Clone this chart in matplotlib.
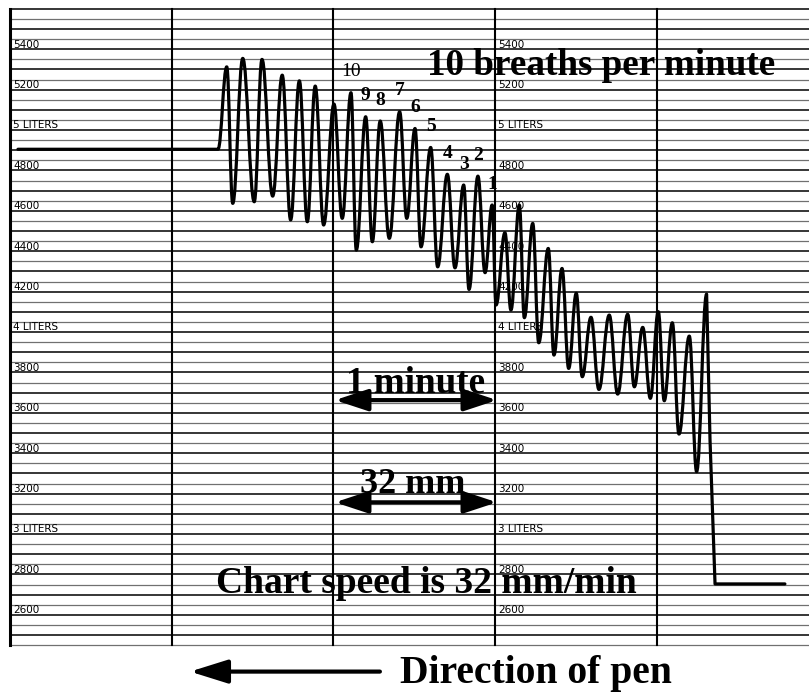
import matplotlib.pyplot as plt
from matplotlib.path import Path
from matplotlib.patches import PathPatch

# spirometer trace, time in minutes from the left chart line, volume in mL
# (flat start, then alternating peaks and troughs, then the final drop)
trace_min = [0.049, 1.286, 1.340, 1.377, 1.439, 1.510, 1.558, 1.624, 1.683, 1.735,
             1.789, 1.838, 1.887, 1.939, 2.003, 2.054, 2.108, 2.141, 2.199, 2.240,
             2.289, 2.345, 2.409, 2.453, 2.504, 2.541, 2.601, 2.644, 2.704, 2.751,
             2.805, 2.838, 2.893, 2.937, 2.981, 3.005, 3.060, 3.097, 3.149, 3.180,
             3.232, 3.269, 3.328, 3.363, 3.413, 3.454, 3.501, 3.538, 3.592, 3.641,
             3.705, 3.757, 3.819, 3.860, 3.912, 3.959, 4.008, 4.045, 4.095, 4.136,
             4.200, 4.245, 4.307, 4.328, 4.359, 4.791]
trace_ml = [4905, 4905, 5313, 4637, 5355, 4645, 5350, 4673, 5272, 4555,
            5244, 4546, 5218, 4530, 5129, 4563, 5185, 4406, 5066, 4447,
            5045, 4464, 5091, 4563, 5008, 4422, 4914, 4323, 4781, 4318,
            4728, 4211, 4772, 4294, 4629, 4134, 4492, 4109, 4629, 4071,
            4538, 3947, 4414, 3886, 4315, 3820, 4192, 3779, 4073, 3716,
            4084, 3693, 4088, 3729, 4023, 3672, 4101, 3660, 4046, 3495,
            3980, 3309, 4188, 3466, 2753, 2753]
first_wave = 1    # index where the breathing starts
last_wave = 62    # index of the last peak before the drop

# the last ten breaths before the 3 minute line are counted down
breath_labels = ["10", "9", "8", "7", "6", "5", "4", "3", "2", "1"]
breath_points = [16, 18, 20, 22, 24, 26, 28, 30, 32, 34]

levels = [5400, 5200, 5000, 4800, 4600, 4400, 4200, 4000, 3800, 3600, 3400, 3200, 3000, 2800, 2600]
level_labels = ["5400", "5200", "5 LITERS", "4800", "4600", "4400", "4200", "4 LITERS",
                "3800", "3600", "3400", "3200", "3 LITERS", "2800", "2600"]
minute_lines = [0, 1, 2, 3, 4]

serif = "Liberation Serif"

fig = plt.figure(figsize=(8.09, 6.93), dpi=100)
ax = fig.add_axes([0, 0, 1, 1])
ax.set_xlim(-0.062, 4.940)
ax.set_ylim(2213, 5644)
ax.axis("off")

# chart paper
for v in range(2450, 5650, 50):
    if v % 100 == 0:
        ax.plot([0, 5], [v, v], color="black", lw=1.1, zorder=1)
    else:
        ax.plot([0, 5], [v, v], color="#707070", lw=0.9, zorder=1)
for m in minute_lines:
    ax.plot([m, m], [2450, 5600], color="black", lw=2.2 if m == 0 else 1.5, zorder=1)

for xcol in [0.02, 3.02]:
    for v, lab in zip(levels, level_labels):
        ax.text(xcol, v + 8, lab, fontsize=7.5, family="DejaVu Sans", va="baseline", ha="left", zorder=2)

# pen trace: straight at the ends, smooth swings between peaks and troughs
pts = list(zip(trace_min, trace_ml))
verts = [pts[0], pts[first_wave]]
codes = [Path.MOVETO, Path.LINETO]
k = 0.4
for i in range(first_wave, last_wave):
    (x0, y0), (x1, y1) = pts[i], pts[i + 1]
    dx = x1 - x0
    verts += [(x0 + k * dx, y0), (x1 - k * dx, y1), (x1, y1)]
    codes += [Path.CURVE4] * 3
for p in pts[last_wave + 1:]:
    verts.append(p)
    codes.append(Path.LINETO)
ax.add_patch(PathPatch(Path(verts, codes), fill=False, lw=2.3, edgecolor="black",
                       joinstyle="round", capstyle="round", zorder=3))

for lab, i in zip(breath_labels, breath_points):
    ax.annotate(lab, (trace_min[i], trace_ml[i]), xytext=(0, 15), textcoords="offset points",
                ha="center", va="center", fontsize=14, family=serif,
                fontweight="normal" if lab == "10" else "bold", zorder=4)

ax.text(3.654, 5272, "10 breaths per minute", fontsize=26.7, family=serif, fontweight="bold",
        ha="center", va="baseline", zorder=4)
ax.text(2.507, 3698, "1 minute", fontsize=26.7, family=serif, fontweight="bold",
        ha="center", va="baseline", zorder=4)
ax.text(2.491, 3203, "32 mm", fontsize=26, family=serif, fontweight="bold",
        ha="center", va="baseline", zorder=4)
ax.text(2.572, 2707, "Chart speed is 32 mm/min", fontsize=27, family=serif, fontweight="bold",
        ha="center", va="baseline", zorder=4)
ax.text(3.252, 2261, "Direction of pen", fontsize=28.5, family=serif, fontweight="bold",
        ha="center", va="baseline", zorder=4)

dbl = dict(arrowstyle="<|-|>,head_length=1.0,head_width=0.33", mutation_scale=20,
           lw=3.0, color="black", shrinkA=0, shrinkB=0)
ax.annotate("", xy=(3.011, 3663), xytext=(2.009, 3663), arrowprops=dbl, zorder=4)
ax.annotate("", xy=(3.011, 3157), xytext=(2.009, 3157), arrowprops=dbl, zorder=4)

one = dict(arrowstyle="-|>,head_length=1.15,head_width=0.36", mutation_scale=20,
           lw=3.0, color="black", shrinkA=0, shrinkB=0)
ax.annotate("", xy=(1.113, 2319), xytext=(2.287, 2319), arrowprops=one, zorder=4)

fig.savefig("out.png", dpi=100, facecolor="white")
